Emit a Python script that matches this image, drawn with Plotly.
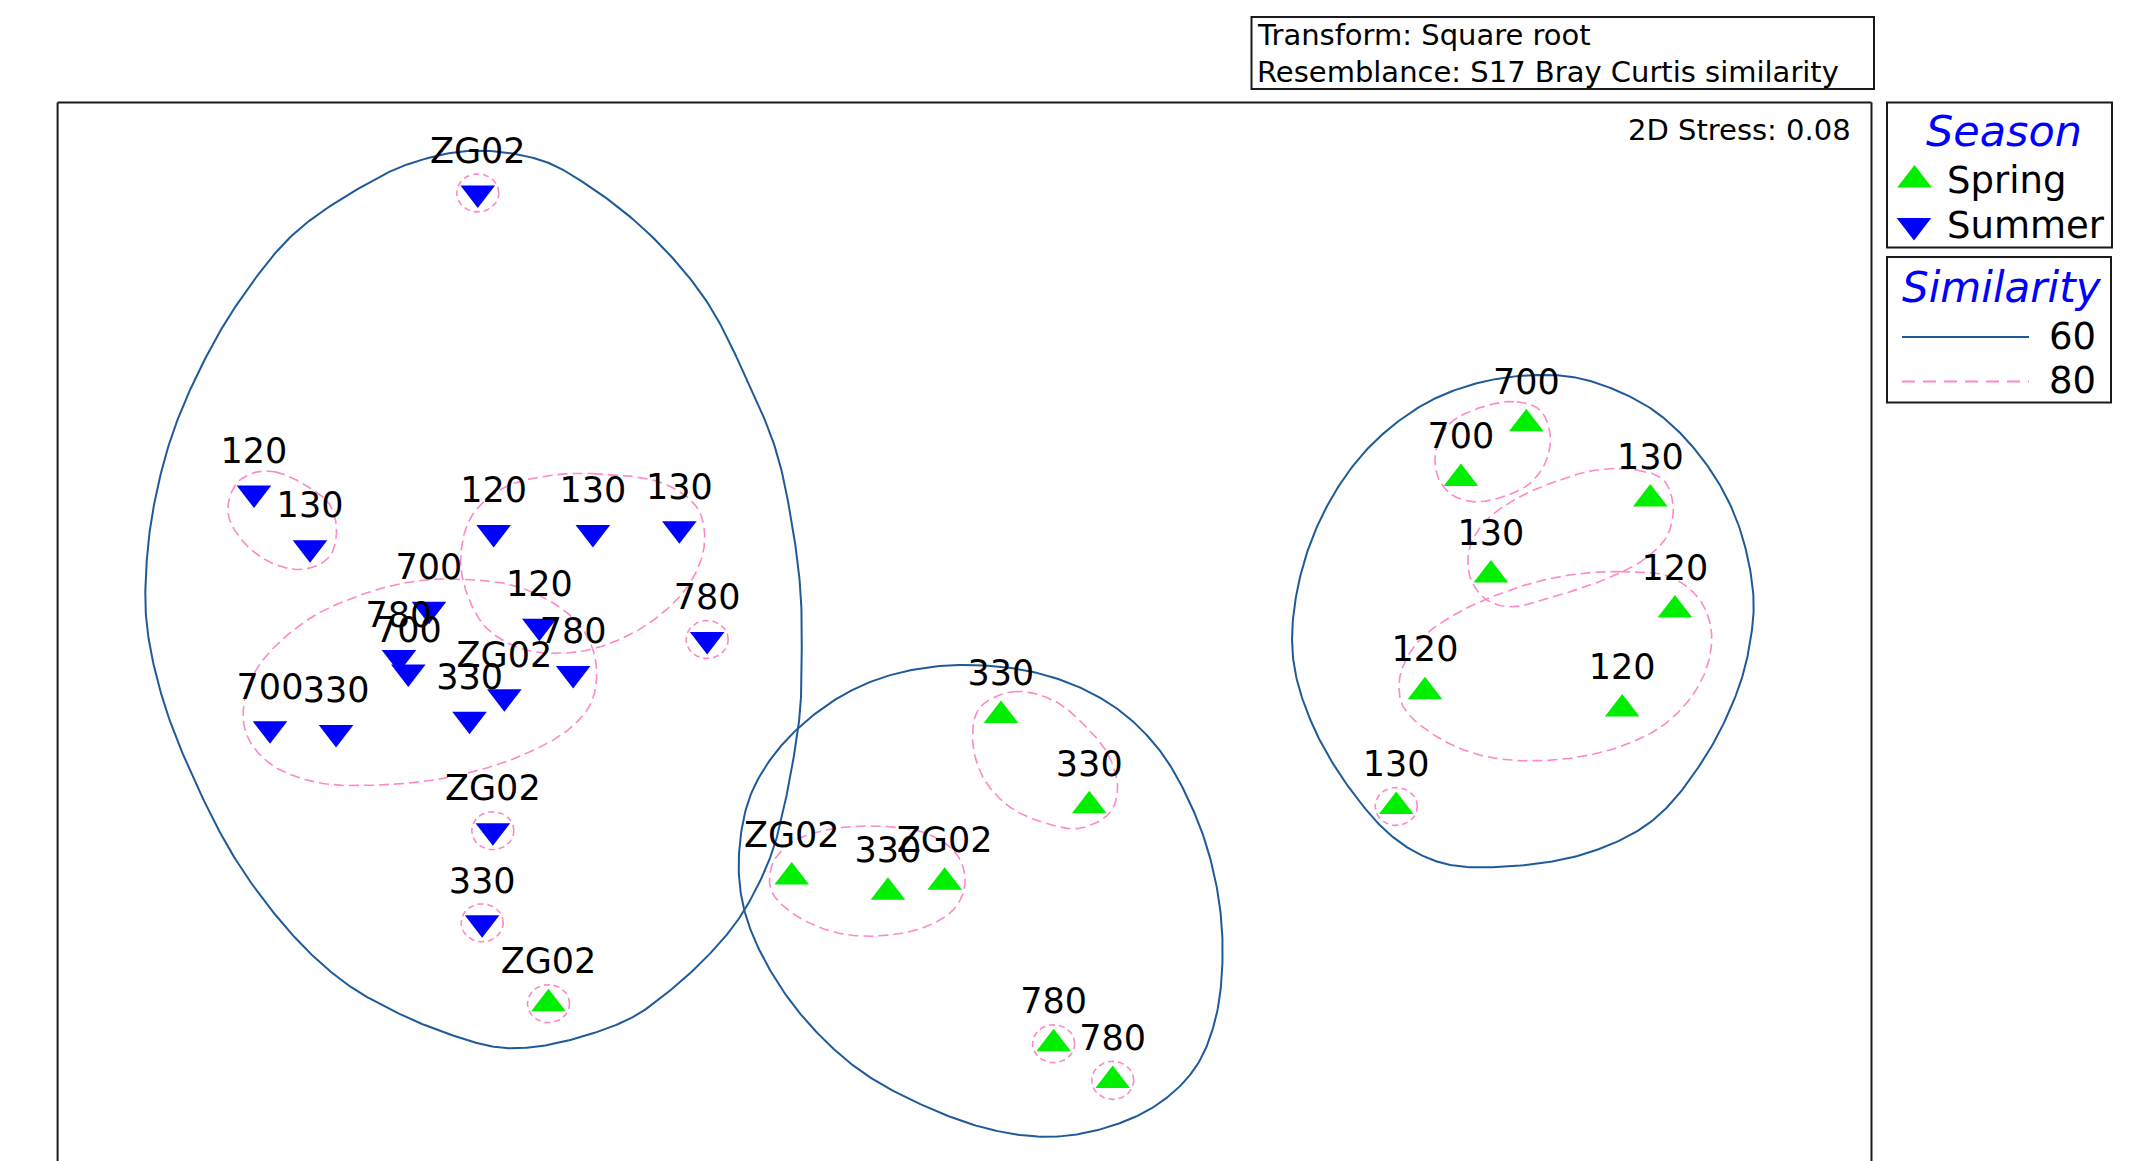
import numpy as np
import plotly.graph_objects as go

W, H = 2149, 1161

# ---------------- data (nMDS coordinates, arbitrary units) ----------------
summer_labels = ["ZG02", "120", "130", "120", "130", "130", "780", "700", "120",
                 "780", "700", "780", "ZG02", "330", "700", "330", "ZG02", "330"]
summer_x = [-3.514, -5.147, -4.738, -3.398, -2.674, -2.043, -1.840, -3.870, -3.065,
            -4.089, -4.021, -2.818, -3.320, -3.574, -5.030, -4.548, -3.404, -3.482]
summer_y = [3.092, 0.902, 0.504, 0.615, 0.615, 0.642, -0.166, 0.055, -0.070,
            -0.297, -0.403, -0.414, -0.584, -0.748, -0.818, -0.844, -1.561, -2.233]
summer_cluster80 = ["s1", "s2", "s2", "s3", "s3", "s3", "s4", "s5", "s3",
                    "s5", "s5", "s5", "s5", "s5", "s5", "s5", "s6", "s7"]

spring_labels = ["ZG02", "ZG02", "330", "ZG02", "330", "330", "780", "780",
                 "700", "700", "130", "130", "120", "120", "120", "130"]
spring_x = [-2.998, -1.223, -0.521, -0.107, 0.304, 0.948, 0.688, 1.119,
            4.137, 3.660, 5.042, 3.879, 5.222, 3.398, 4.837, 3.188]
spring_y = [-2.823, -1.899, -2.011, -1.938, -0.720, -1.379, -3.115, -3.383,
            1.408, 1.009, 0.859, 0.304, 0.049, -0.547, -0.673, -1.384]
spring_cluster80 = ["p1", "p2", "p2", "p2", "p3", "p3", "p4", "p5",
                    "p6", "p6", "p7", "p7", "p8", "p8", "p8", "p9"]

# 60% similarity contours (outline control points)
c60_a_x = [-3.55, -3.05, -2.73, -2.27, -1.85, -1.55, -1.34, -1.23, -1.16, -1.15, -1.16, -1.20,
           -1.26, -1.36, -1.50, -1.65, -1.89, -2.14, -2.38, -2.74, -3.11, -3.38, -3.74, -4.10,
           -4.47, -4.83, -5.25, -5.56, -5.81, -5.93, -5.93, -5.87, -5.74, -5.52, -5.25, -4.85,
           -4.32, -4.00]
c60_a_y = [3.40, 3.33, 3.16, 2.80, 2.31, 1.73, 1.22, 0.73, 0.20, -0.24, -0.66, -0.97,
           -1.30, -1.70, -2.02, -2.26, -2.53, -2.75, -2.92, -3.06, -3.14, -3.14, -3.04, -2.89,
           -2.68, -2.36, -1.82, -1.24, -0.61, -0.05, 0.40, 0.85, 1.34, 1.85, 2.31, 2.80,
           3.16, 3.31]
c60_b_x = [-0.146, 0.559, 1.094, 1.459, 1.727, 1.873, 1.921, 1.873, 1.727, 1.459, 1.094, 0.681,
           0.243, -0.243, -0.730, -1.143, -1.435, -1.581, -1.606, -1.508, -1.216, -0.730]
c60_b_y = [-0.360, -0.408, -0.632, -0.972, -1.459, -1.945, -2.432, -2.918, -3.283, -3.550, -3.721, -3.794,
           -3.745, -3.575, -3.307, -2.918, -2.480, -2.091, -1.702, -1.264, -0.851, -0.510]
c60_c_x = [4.213, 4.577, 5.063, 5.428, 5.672, 5.793, 5.769, 5.672, 5.428, 5.063, 4.577, 3.969,
           3.531, 3.191, 2.875, 2.583, 2.437, 2.461, 2.632, 2.948, 3.361, 3.775]
c60_c_y = [1.764, 1.727, 1.508, 1.144, 0.706, 0.171, -0.194, -0.559, -1.045, -1.483, -1.726, -1.824,
           -1.799, -1.629, -1.289, -0.802, -0.316, 0.171, 0.706, 1.192, 1.533, 1.703]

# 80% similarity contours (outline control points, multi-member clusters)
c80_s2_x = [-4.993, -4.759, -4.589, -4.545, -4.602, -4.785, -5.020, -5.228, -5.337, -5.280, -5.150]
c80_s2_y = [1.057, 0.953, 0.810, 0.601, 0.432, 0.346, 0.393, 0.550, 0.758, 0.966, 1.050]
c80_s3_x = [-2.674, -2.153, -1.906, -1.861, -1.971, -2.231, -2.544, -2.856, -3.196, -3.456,
            -3.599, -3.638, -3.560, -3.326, -2.987]
c80_s3_y = [1.044, 0.971, 0.784, 0.523, 0.237, -0.024, -0.193, -0.264, -0.233, -0.076,
            0.185, 0.445, 0.732, 0.940, 1.031]
c80_s5_x = [-3.717, -3.196, -2.804, -2.661, -2.674, -2.831, -3.196, -3.717, -4.238, -4.680,
            -5.020, -5.202, -5.215, -5.098, -4.759, -4.368, -4.029]
c80_s5_y = [0.276, 0.211, -0.024, -0.284, -0.597, -0.806, -1.014, -1.170, -1.228, -1.210,
            -1.079, -0.858, -0.597, -0.337, -0.024, 0.159, 0.250]
c80_p2_x = [-0.973, -0.608, -0.243, -0.024, 0.043, -0.024, -0.243, -0.608, -0.924, -1.216,
            -1.374, -1.362, -1.216]
c80_p2_y = [-1.556, -1.527, -1.580, -1.726, -1.921, -2.116, -2.262, -2.330, -2.298, -2.164,
            -1.994, -1.799, -1.641]
c80_p3_x = [0.389, 0.681, 0.924, 1.094, 1.155, 1.094, 0.875, 0.632, 0.365, 0.170, 0.097, 0.146]
c80_p3_y = [-0.547, -0.608, -0.802, -1.021, -1.264, -1.434, -1.544, -1.507, -1.386, -1.167, -0.899, -0.668]
c80_p6_x = [4.067, 4.237, 4.310, 4.285, 4.164, 3.969, 3.750, 3.580, 3.483, 3.483, 3.580, 3.823]
c80_p6_y = [1.569, 1.508, 1.338, 1.144, 0.973, 0.876, 0.839, 0.900, 1.046, 1.241, 1.411, 1.533]
c80_p7_x = [4.942, 5.137, 5.209, 5.161, 4.991, 4.699, 4.334, 4.042, 3.848, 3.726, 3.726, 3.848,
            4.091, 4.383, 4.650]
c80_p7_y = [1.071, 0.998, 0.803, 0.584, 0.414, 0.268, 0.146, 0.073, 0.122, 0.292, 0.511, 0.706,
            0.876, 0.998, 1.071]
c80_p8_x = [4.821, 5.185, 5.404, 5.489, 5.428, 5.185, 4.821, 4.334, 3.848, 3.483, 3.239, 3.215,
            3.337, 3.629, 4.091, 4.456]
c80_p8_y = [0.329, 0.292, 0.122, -0.121, -0.438, -0.754, -0.948, -1.045, -1.021, -0.875, -0.656,
            -0.438, -0.194, 0.025, 0.219, 0.305]

season_names = ["Spring", "Summer"]
similarity_levels = ["60", "80"]
transform_text = ["Transform: Square root", "Resemblance: S17 Bray Curtis similarity"]
stress_text = "2D Stress: 0.08"

# ---------------- layout geometry (page pixels) ----------------
OFF = 8  # default body margin of the html page
PLOT_L, PLOT_R, PLOT_T, PLOT_B = 57.6, 1871.5, 102.5, 1161
X_RANGE = [-6.580, 6.656]
Y_RANGE = [-3.971, 3.752]
UX = (X_RANGE[1] - X_RANGE[0]) / (PLOT_R - PLOT_L)   # data units per px
UY = (Y_RANGE[1] - Y_RANGE[0]) / (PLOT_B - PLOT_T)

FONT = "DejaVu Sans"
GREEN = "#00EE00"
BLUE = "#0000FF"
NAVY = "#1F5A98"
PINK = "#FF88C8"
MSIZE = 30


def px(x):
    return (x - OFF) / W


def py(y):
    return 1 - (y - OFF) / H


def closed_curve(xs, ys, n=24, alpha=0.5):
    P = np.column_stack([xs, ys]).astype(float)
    m = len(P)
    out = []
    for i in range(m):
        p0, p1, p2, p3 = P[(i - 1) % m], P[i], P[(i + 1) % m], P[(i + 2) % m]
        t0 = 0.0
        t1 = t0 + np.linalg.norm(p1 - p0) ** alpha
        t2 = t1 + np.linalg.norm(p2 - p1) ** alpha
        t3 = t2 + np.linalg.norm(p3 - p2) ** alpha
        for t in np.linspace(t1, t2, n, endpoint=False):
            A1 = (t1 - t) / (t1 - t0) * p0 + (t - t0) / (t1 - t0) * p1
            A2 = (t2 - t) / (t2 - t1) * p1 + (t - t1) / (t2 - t1) * p2
            A3 = (t3 - t) / (t3 - t2) * p2 + (t - t2) / (t3 - t2) * p3
            B1 = (t2 - t) / (t2 - t0) * A1 + (t - t0) / (t2 - t0) * A2
            B2 = (t3 - t) / (t3 - t1) * A2 + (t - t1) / (t3 - t1) * A3
            out.append((t2 - t) / (t2 - t1) * B1 + (t - t1) / (t2 - t1) * B2)
    out.append(out[0])
    arr = np.array(out)
    return arr[:, 0], arr[:, 1]


fig = go.Figure()

# 60% contours
for cx, cy in [(c60_a_x, c60_a_y), (c60_b_x, c60_b_y), (c60_c_x, c60_c_y)]:
    sx, sy = closed_curve(cx, cy)
    fig.add_trace(go.Scatter(x=sx, y=sy, mode="lines", hoverinfo="skip",
                             line=dict(color=NAVY, width=2)))

# 80% contours (multi-member)
outlines80 = {
    "s2": (c80_s2_x, c80_s2_y), "s3": (c80_s3_x, c80_s3_y), "s5": (c80_s5_x, c80_s5_y),
    "p2": (c80_p2_x, c80_p2_y), "p3": (c80_p3_x, c80_p3_y), "p6": (c80_p6_x, c80_p6_y),
    "p7": (c80_p7_x, c80_p7_y), "p8": (c80_p8_x, c80_p8_y),
}
for cx, cy in outlines80.values():
    sx, sy = closed_curve(cx, cy)
    fig.add_trace(go.Scatter(x=sx, y=sy, mode="lines", hoverinfo="skip",
                             line=dict(color=PINK, width=1.6, dash="10px,5px")))

# 80% contours around single samples
th = np.linspace(0, 2 * np.pi, 80)
for xs, ys, cl in [(summer_x, summer_y, summer_cluster80), (spring_x, spring_y, spring_cluster80)]:
    for xv, yv, c in zip(xs, ys, cl):
        if cl.count(c) == 1:
            fig.add_trace(go.Scatter(x=xv + 21 * UX * np.cos(th), y=yv + 19 * UY * np.sin(th),
                                     mode="lines", hoverinfo="skip",
                                     line=dict(color=PINK, width=1.6, dash="6px,4px")))

# samples
fig.add_trace(go.Scatter(x=summer_x, y=summer_y, mode="markers", name="Summer",
                         marker=dict(symbol="triangle-down", size=MSIZE, color=BLUE,
                                     line=dict(width=0))))
fig.add_trace(go.Scatter(x=spring_x, y=spring_y, mode="markers", name="Spring",
                         marker=dict(symbol="triangle-up", size=MSIZE, color=GREEN,
                                     line=dict(width=0))))

# sample labels above symbols
LABEL_DY = 39 * UY
fig.add_trace(go.Scatter(x=summer_x + spring_x,
                         y=[v + LABEL_DY for v in summer_y + spring_y],
                         text=summer_labels + spring_labels, mode="text",
                         textposition="middle center", cliponaxis=False, hoverinfo="skip",
                         textfont=dict(family=FONT, size=35, color="black")))

# legend glyphs on a page-pixel overlay axis
fig.add_trace(go.Scatter(x=[1914.5], y=[180], xaxis="x2", yaxis="y2", mode="markers",
                         hoverinfo="skip",
                         marker=dict(symbol="triangle-up", size=MSIZE, color=GREEN, line=dict(width=0))))
fig.add_trace(go.Scatter(x=[1914], y=[225.5], xaxis="x2", yaxis="y2", mode="markers",
                         hoverinfo="skip",
                         marker=dict(symbol="triangle-down", size=MSIZE, color=BLUE, line=dict(width=0))))

shapes = []
frame = dict(color="#1a1a1a", width=2)
# plot frame (bottom edge lies below the page)
shapes.append(dict(type="line", xref="paper", yref="paper", x0=px(PLOT_L), x1=px(PLOT_L),
                   y0=py(PLOT_T), y1=py(PLOT_B + 20), line=frame))
shapes.append(dict(type="line", xref="paper", yref="paper", x0=px(PLOT_L), x1=px(PLOT_R),
                   y0=py(PLOT_T), y1=py(PLOT_T), line=frame))
shapes.append(dict(type="line", xref="paper", yref="paper", x0=px(PLOT_R), x1=px(PLOT_R),
                   y0=py(PLOT_T), y1=py(PLOT_B + 20), line=frame))
# boxes
for x0, y0, x1, y1 in [(1251.5, 17, 1874, 89), (1887, 102.5, 2112, 247.5), (1887, 257, 2111, 402.5)]:
    shapes.append(dict(type="rect", xref="paper", yref="paper", x0=px(x0), x1=px(x1),
                       y0=py(y1), y1=py(y0), line=frame, fillcolor="rgba(0,0,0,0)"))
# similarity legend lines
shapes.append(dict(type="line", xref="paper", yref="paper", x0=px(1902), x1=px(2029),
                   y0=py(337), y1=py(337), line=dict(color=NAVY, width=2)))
shapes.append(dict(type="line", xref="paper", yref="paper", x0=px(1902), x1=px(2029),
                   y0=py(381.5), y1=py(381.5), line=dict(color=PINK, width=2, dash="13px,8px")))

ann = []


def add_text(text, x, y, size, xanchor="left", color="black", style="normal"):
    ann.append(dict(text=text, xref="paper", yref="paper", x=px(x), y=py(y),
                    xanchor=xanchor, yanchor="middle", showarrow=False, borderpad=0,
                    font=dict(family=FONT, size=size, color=color, style=style)))


add_text(transform_text[0], 1256, 35, 29)
add_text(transform_text[1], 1256, 72, 29)
add_text(stress_text, 1852, 130, 29, xanchor="right")
add_text("Season", 2003.5, 131, 43, xanchor="center", color=BLUE, style="italic")
add_text(season_names[0], 1946, 180, 37)
add_text(season_names[1], 1946, 225, 37)
add_text("Similarity", 2001.5, 288, 42, xanchor="center", color=BLUE, style="italic")
add_text(similarity_levels[0], 2097, 336, 37, xanchor="right")
add_text(similarity_levels[1], 2097, 381, 37, xanchor="right")

fig.update_layout(
    width=W, height=H, margin=dict(l=0, r=0, t=0, b=0),
    paper_bgcolor="white", plot_bgcolor="rgba(0,0,0,0)", showlegend=False,
    xaxis=dict(range=X_RANGE, domain=[px(PLOT_L), px(PLOT_R)], visible=False, fixedrange=True),
    yaxis=dict(range=Y_RANGE, domain=[py(PLOT_B), py(PLOT_T)], visible=False, fixedrange=True),
    xaxis2=dict(range=[OFF, W + OFF], domain=[0, 1], visible=False, anchor="y2"),
    yaxis2=dict(range=[H + OFF, OFF], domain=[0, 1], visible=False, anchor="x2"),
    shapes=shapes, annotations=ann,
)

fig.write_html("out.html")
